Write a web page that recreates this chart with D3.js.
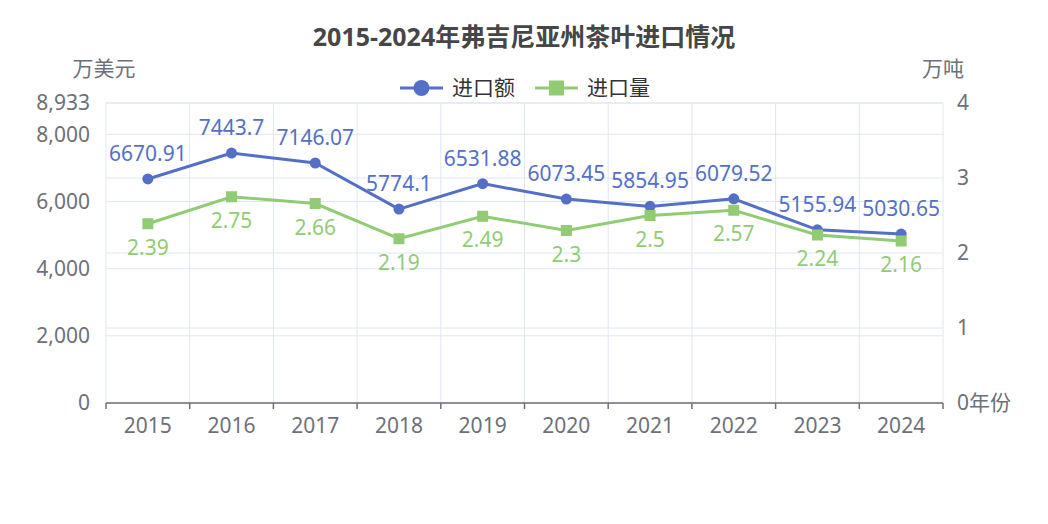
<!DOCTYPE html>
<html>
<head>
<meta charset="utf-8">
<script src="https://cdn.jsdelivr.net/npm/d3@7"></script>
<style>
  body { margin: 0; background: #fff; }
  svg { display: block; font-family: "Noto Sans", "Noto Sans CJK SC", sans-serif; }
</style>
</head>
<body>
<svg id="chart"></svg>
<script>
// Chart data
const years = ['2015', '2016', '2017', '2018', '2019', '2020', '2021', '2022', '2023', '2024'];
const importValue = [6670.91, 7443.7, 7146.07, 5774.1, 6531.88, 6073.45, 5854.95, 6079.52, 5155.94, 5030.65];
const importVolume = [2.39, 2.75, 2.66, 2.19, 2.49, 2.3, 2.5, 2.57, 2.24, 2.16];
const leftTicks = [0, 2000, 4000, 6000, 8000, 8933];
const rightTicks = [0, 1, 2, 3, 4];

const width = 1048, height = 524;
const margin = { top: 103, right: 105, bottom: 121, left: 106 };
const blue = '#5470c6', green = '#91cc75';
const axisColor = '#6e7079', gridColor = '#e0e6f1';
const fs = 21;

const svg = d3.select('#chart').attr('width', width).attr('height', height);

const x = d3.scaleBand().domain(years).range([margin.left, width - margin.right]);
const yL = d3.scaleLinear().domain([0, 8933]).range([height - margin.bottom, margin.top]);
const yR = d3.scaleLinear().domain([0, 4]).range([height - margin.bottom, margin.top]);

// Title
svg.append('text')
    .attr('x', width / 2).attr('y', 46)
    .attr('text-anchor', 'middle')
    .attr('font-size', 25).attr('font-weight', 'bold')
    .attr('fill', '#464646')
    .text('2015-2024年弗吉尼亚州茶叶进口情况');

// Grid lines (both axes draw their own)
const grid = svg.append('g');
leftTicks.forEach(t => {
    grid.append('line')
        .attr('x1', margin.left).attr('x2', width - margin.right)
        .attr('y1', yL(t)).attr('y2', yL(t))
        .attr('stroke', gridColor);
});
rightTicks.forEach(t => {
    grid.append('line')
        .attr('x1', margin.left).attr('x2', width - margin.right)
        .attr('y1', yR(t)).attr('y2', yR(t))
        .attr('stroke', gridColor);
});
years.forEach(yr => {
    grid.append('line')
        .attr('x1', x(yr)).attr('x2', x(yr))
        .attr('y1', margin.top).attr('y2', height - margin.bottom)
        .attr('stroke', gridColor);
});
grid.append('line')
    .attr('x1', width - margin.right).attr('x2', width - margin.right)
    .attr('y1', margin.top).attr('y2', height - margin.bottom)
    .attr('stroke', gridColor);

// X axis
const xAxis = svg.append('g')
    .attr('transform', `translate(0,${height - margin.bottom})`);
xAxis.append('line')
    .attr('x1', margin.left).attr('x2', width - margin.right)
    .attr('stroke', axisColor).attr('stroke-width', 1.5);
years.concat(['end']).forEach((yr, i) => {
    const px = i < years.length ? x(yr) : width - margin.right;
    xAxis.append('line')
        .attr('x1', px).attr('x2', px).attr('y1', 0).attr('y2', 6)
        .attr('stroke', axisColor).attr('stroke-width', 1.5);
});
xAxis.selectAll('text.tick')
    .data(years)
    .enter().append('text')
    .attr('class', 'tick')
    .attr('x', d => x(d) + x.bandwidth() / 2)
    .attr('y', 30)
    .attr('text-anchor', 'middle')
    .attr('font-size', fs).attr('fill', axisColor)
    .text(d => d);

// Left axis labels
svg.append('g').selectAll('text')
    .data(leftTicks)
    .enter().append('text')
    .attr('x', margin.left - 16)
    .attr('y', d => yL(d))
    .attr('dy', '0.35em')
    .attr('text-anchor', 'end')
    .attr('font-size', fs).attr('fill', axisColor)
    .text(d => d3.format(',')(d));

// Right axis labels
svg.append('g').selectAll('text')
    .data(rightTicks)
    .enter().append('text')
    .attr('x', width - margin.right + 14)
    .attr('y', d => yR(d))
    .attr('dy', '0.35em')
    .attr('font-size', fs).attr('fill', axisColor)
    .text(d => d);

// Axis names
svg.append('text')
    .attr('x', 104).attr('y', 76).attr('text-anchor', 'middle')
    .attr('font-size', fs).attr('fill', axisColor).text('万美元');
svg.append('text')
    .attr('x', 943).attr('y', 76).attr('text-anchor', 'middle')
    .attr('font-size', fs).attr('fill', axisColor).text('万吨');
svg.append('text')
    .attr('x', width - margin.right + 26).attr('y', yR(0))
    .attr('dy', '0.35em')
    .attr('font-size', fs).attr('fill', axisColor).text('年份');

const cx = d => x(d) + x.bandwidth() / 2;

// Value series (left axis)
const lineL = d3.line().x((d, i) => cx(years[i])).y(d => yL(d));
svg.append('path')
    .datum(importValue)
    .attr('d', lineL)
    .attr('fill', 'none').attr('stroke', blue).attr('stroke-width', 3);
svg.append('g').selectAll('circle')
    .data(importValue)
    .enter().append('circle')
    .attr('cx', (d, i) => cx(years[i]))
    .attr('cy', d => yL(d))
    .attr('r', 5.5)
    .attr('fill', blue);
svg.append('g').selectAll('text')
    .data(importValue)
    .enter().append('text')
    .attr('x', (d, i) => cx(years[i]))
    .attr('y', d => yL(d) - 18)
    .attr('text-anchor', 'middle')
    .attr('font-size', fs).attr('fill', blue)
    .text(d => d);

// Volume series (right axis)
const lineR = d3.line().x((d, i) => cx(years[i])).y(d => yR(d));
svg.append('path')
    .datum(importVolume)
    .attr('d', lineR)
    .attr('fill', 'none').attr('stroke', green).attr('stroke-width', 3);
svg.append('g').selectAll('rect')
    .data(importVolume)
    .enter().append('rect')
    .attr('x', (d, i) => cx(years[i]) - 5.5)
    .attr('y', d => yR(d) - 5.5)
    .attr('width', 11).attr('height', 11)
    .attr('fill', green);
svg.append('g').selectAll('text')
    .data(importVolume)
    .enter().append('text')
    .attr('x', (d, i) => cx(years[i]))
    .attr('y', d => yR(d) + 31)
    .attr('text-anchor', 'middle')
    .attr('font-size', fs).attr('fill', green)
    .text(d => d);

// Legend
const legendItems = [
    { name: '进口额', color: blue, shape: 'circle', x: 400 },
    { name: '进口量', color: green, shape: 'rect', x: 535 }
];
const legend = svg.append('g');
legendItems.forEach(item => {
    const g = legend.append('g').attr('transform', `translate(${item.x},88)`);
    g.append('line').attr('x1', 0).attr('x2', 43)
        .attr('stroke', item.color).attr('stroke-width', 3);
    if (item.shape === 'circle') {
        g.append('circle').attr('cx', 21.5).attr('r', 8).attr('fill', item.color);
    } else {
        g.append('rect').attr('x', 14).attr('y', -7.5)
            .attr('width', 15).attr('height', 15).attr('fill', item.color);
    }
    g.append('text').attr('x', 52).attr('dy', '0.35em')
        .attr('font-size', fs).attr('fill', '#333')
        .text(item.name);
});
</script>
</body>
</html>
